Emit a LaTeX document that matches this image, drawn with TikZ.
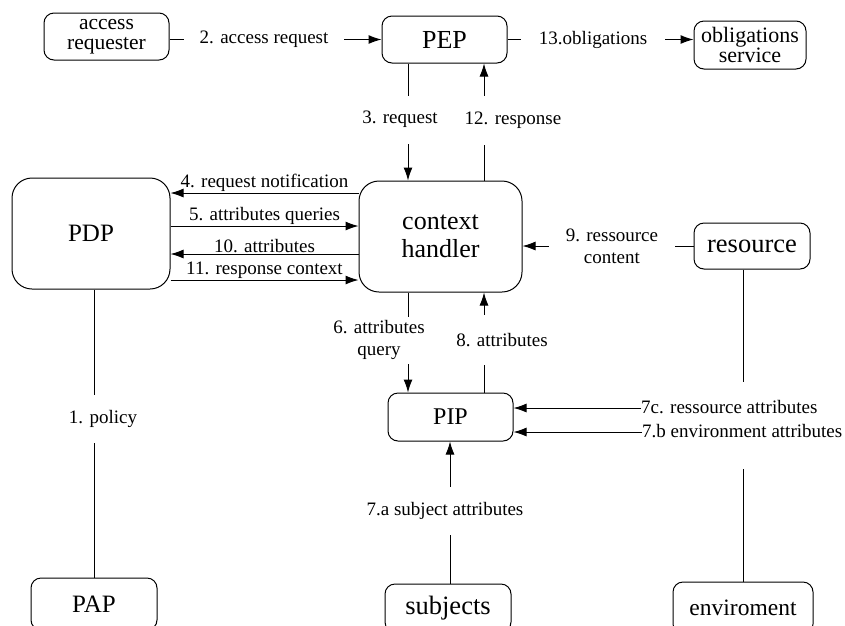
\documentclass[tikz,border=0pt]{standalone}
\usepackage{fontspec}
\setmainfont{Liberation Serif}
\newfontfamily\tms{Liberation Serif}
\usetikzlibrary{arrows.meta}
\begin{document}
\begin{tikzpicture}[x=1pt,y=-1pt,
  box/.style={draw,line width=1pt,rounded corners=10pt,align=center,inner sep=0pt},
  bigbox/.style={box,rounded corners=20pt},
  lab/.style={font=\tms\fontsize{19}{22}\selectfont,align=center,inner sep=0pt},
  gap/.style={fill=white},
  conn/.style={line width=1pt},
  arr/.style={conn,-{Latex[length=13pt,width=9pt]}}]
\clip (0,0) rectangle (845,625);
\fill[white] (0,0) rectangle (845,625);

% boxes
\node[box,minimum width=125pt,minimum height=47pt,font=\tms\fontsize{21.5}{20.5}\selectfont] (areq) at (106.5,36.5) {access\\requester};
\node[box,minimum width=125pt,minimum height=47pt,font=\tms\fontsize{26}{28}\selectfont] (pep) at (444.5,39.5) {PEP};
\node[box,minimum width=112pt,minimum height=48pt,font=\tms\fontsize{22}{20.5}\selectfont] (obl) at (750,45) {obligations\\service};
\node[bigbox,minimum width=158pt,minimum height=111pt,font=\tms\fontsize{25}{28}\selectfont] (pdp) at (91,233.5) {PDP};
\node[bigbox,minimum width=163pt,minimum height=111pt,font=\tms\fontsize{26}{28}\selectfont] (ch) at (440.5,236.5) {context\\handler};
\node[box,minimum width=116pt,minimum height=46pt,font=\tms\fontsize{26.5}{28}\selectfont] (res) at (752,246) {resource};
\node[box,minimum width=125pt,minimum height=48pt,font=\tms\fontsize{24}{28}\selectfont] (pip) at (450.5,417) {PIP};
\node[box,minimum width=126pt,minimum height=52pt,font=\tms\fontsize{25}{28}\selectfont] (pap) at (94,604) {PAP};
\node[box,minimum width=126pt,minimum height=48pt,font=\tms\fontsize{26.5}{28}\selectfont] (subj) at (448,608) {subjects};
\node[box,minimum width=140pt,minimum height=52pt,font=\tms\fontsize{23.5}{28}\selectfont] (env) at (743,608) {enviroment};

% helper coordinates
\coordinate (x94) at (94,0);
\coordinate (x408) at (408,0);
\coordinate (x450) at (450,0);
\coordinate (x484) at (484,0);
\coordinate (x743) at (743,0);
\coordinate (y193) at (0,193);
\coordinate (y226) at (0,226);
\coordinate (y254) at (0,254);
\coordinate (y280) at (0,280);
\coordinate (y408) at (0,408);
\coordinate (y432) at (0,432);
\coordinate (rgt) at (743,382);
\coordinate (rgb) at (743,469);

% 2. access request
\draw[arr] (areq.east |- pep.west) -- node[lab,gap,pos=0.446,inner xsep=16pt,inner ysep=3pt] {2. access request} (pep.west);
% 13. obligations
\draw[arr] (pep.east) -- node[lab,gap,pos=0.46,inner xsep=18pt,inner ysep=3pt] {13.obligations} (obl.west |- pep.east);
% 3. request
\draw[arr] (pep.south -| x408) -- node[lab,gap,pos=0.479,xshift=-8pt,minimum height=48pt] {3. request} (ch.north -| x408);
% 12. response
\draw[arr] (ch.north -| x484) -- node[lab,gap,pos=0.517,xshift=29pt,minimum height=49pt] {12. response} (pep.south -| x484);
% PDP <-> context handler
\draw[arr] (ch.west |- y193) -- node[lab,above=1pt] {4. request notification} (pdp.east |- y193);
\draw[arr] (pdp.east |- y226) -- node[lab,above=1pt] {5. attributes queries} (ch.west |- y226);
\draw[arr] (ch.west |- y254) -- node[lab,above=1pt] {10. attributes} (pdp.east |- y254);
\draw[arr] (pdp.east |- y280) -- node[lab,above=1pt] {11. response context} (ch.west |- y280);
% 9. ressource content
\draw[arr] (res.west) -- node[lab,gap,pos=0.477,inner xsep=17pt,inner ysep=2pt] {9. ressource\\content} (ch.east |- res.west);
% 6. attributes query
\draw[arr] (ch.south -| x408) -- node[lab,gap,pos=0.475,xshift=-29pt,inner ysep=2pt,minimum height=47pt] {6. attributes\\query} (pip.north -| x408);
% 8. attributes
\draw[arr] (pip.north -| x484) -- node[lab,gap,pos=0.525,xshift=18pt,minimum height=50pt] {8. attributes} (ch.south -| x484);
% 7c / 7b
\node[lab,anchor=west] (l7c) at (641,407) {7c. ressource attributes};
\node[lab,anchor=west] (l7b) at (642,431) {7.b environment attributes};
\draw[arr] (l7c.west |- y408) -- (pip.east |- y408);
\draw[arr] (l7b.west |- y432) -- (pip.east |- y432);
% 7.a subject attributes
\draw[arr] (subj.north -| x450) -- node[lab,gap,pos=0.51,xshift=-5pt,minimum height=48pt] {7.a subject attributes} (pip.south -| x450);
% 1. policy
\draw[conn] (pdp.south -| x94) -- node[lab,gap,pos=0.45,xshift=9pt,minimum height=48pt] {1. policy} (pap.north -| x94);
% resource -- enviroment
\draw[conn] (res.south -| x743) -- (rgt);
\draw[conn] (rgb) -- (env.north -| x743);
\end{tikzpicture}
\end{document}
